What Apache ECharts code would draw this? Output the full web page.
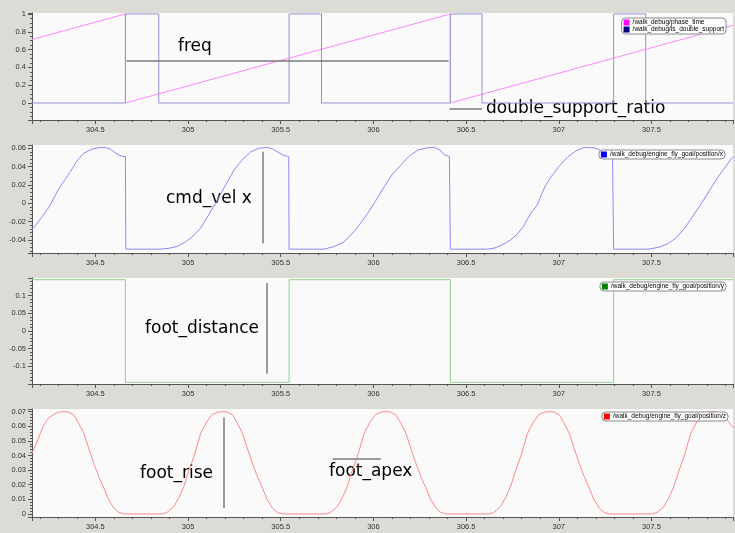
<!DOCTYPE html>
<html><head><meta charset="utf-8">
<script src="https://cdn.jsdelivr.net/npm/echarts@6/dist/echarts.min.js"></script>
<style>html,body{margin:0;padding:0;background:#dcdbd6}#c{width:735px;height:533px}</style>
</head><body><div id="c"></div>
<script>
// ---- data ----
const seriesNames = ['/walk_debug/phase_time','/walk_debug/is_double_support','/walk_debug/engine_fly_goal/position/x','/walk_debug/engine_fly_goal/position/y','/walk_debug/engine_fly_goal/position/z'];
const phaseTime = [[304.158,0.714],[304.662,1.0],[304.662,0],[306.415,1.0],[306.415,0],[307.94,0.872]];
const isDoubleSupport = [[304.158,0],[304.662,0],[304.662,1],[304.842,1],[304.842,0],[305.545,0],[305.545,1],[305.72,1],[305.72,0],[306.415,0],[306.415,1],[306.586,1],[306.586,0],[307.296,0],[307.296,1],[307.469,1],[307.469,0],[307.94,0]];
const posX = [
[304.158,-0.029],[304.2,-0.018],[304.25,-0.004],[304.285,0.009],[304.293,0.0127],[304.33,0.024],[304.365,0.0345],[304.4,0.046],[304.437,0.0545],[304.48,0.059],[304.527,0.061],[304.56,0.0605],[304.581,0.059],[304.6,0.056],[304.626,0.0527],[304.645,0.0512],[304.662,0.051],[304.664,-0.05],
[304.85,-0.05],[304.9,-0.049],[304.94,-0.047],[304.98,-0.043],[305.02,-0.037],[305.068,-0.027],[305.11,-0.013],[305.158,0.0036],[305.2,0.019],[305.248,0.0363],[305.29,0.047],[305.338,0.056],[305.38,0.06],[305.428,0.061],[305.46,0.059],[305.482,0.056],[305.518,0.052],[305.543,0.051],[305.545,-0.05],
[305.734,-0.05],[305.79,-0.047],[305.842,-0.042],[305.9,-0.03],[305.969,-0.011],[306.01,0.002],[306.058,0.018],[306.1,0.031],[306.149,0.042],[306.19,0.051],[306.239,0.058],[306.29,0.0605],[306.329,0.061],[306.36,0.058],[306.383,0.053],[306.41,0.051],[306.415,-0.05],
[306.617,-0.05],[306.65,-0.049],[306.689,-0.046],[306.74,-0.04],[306.779,-0.033],[306.81,-0.025],[306.833,-0.0164],[306.855,-0.009],[306.872,-0.005],[306.888,0.0],[306.905,0.009],[306.93,0.02],[306.959,0.029],[307.0,0.04],[307.05,0.051],[307.1,0.058],[307.14,0.061],[307.19,0.0605],[307.212,0.059],[307.24,0.056],[307.266,0.053],[307.29,0.051],[307.296,-0.05],
[307.482,-0.05],[307.54,-0.048],[307.59,-0.044],[307.63,-0.038],[307.68,-0.027],[307.72,-0.015],[307.77,0.0],[307.82,0.016],[307.86,0.029],[307.9,0.04],[307.932,0.049],[307.94,0.051]
];
const posY = [[304.158,0.145],[304.662,0.145],[304.662,-0.145],[305.545,-0.145],[305.545,0.145],[306.415,0.145],[306.415,-0.145],[307.296,-0.145],[307.296,0.145],[307.94,0.145]];
const posZ = [
[304.158,0.0415],[304.19,0.051],[304.22,0.0605],[304.25,0.066],[304.28,0.0685],[304.305,0.0697],[304.33,0.07],[304.356,0.0697],[304.384,0.0677],[304.41,0.062],[304.438,0.055],[304.461,0.046],[304.491,0.0347],[304.52,0.025],[304.546,0.0176],[304.57,0.01],[304.6,0.0039],[304.626,0.001],[304.654,0],
[304.862,0],[304.886,0.001],[304.923,0.005],[304.95,0.011],[304.977,0.0187],[305.0,0.028],[305.031,0.039],[305.068,0.055],[305.1,0.063],[305.13,0.068],[305.16,0.0697],[305.186,0.07],[305.212,0.0697],[305.24,0.0677],[305.266,0.062],[305.294,0.055],[305.317,0.046],[305.347,0.0347],[305.376,0.025],[305.402,0.0176],[305.426,0.01],[305.456,0.0039],[305.482,0.001],[305.51,0],
[305.744,0],[305.768,0.001],[305.805,0.005],[305.832,0.011],[305.859,0.0187],[305.882,0.028],[305.913,0.039],[305.95,0.055],[305.982,0.063],[306.012,0.068],[306.042,0.0697],[306.068,0.07],[306.094,0.0697],[306.122,0.0677],[306.148,0.062],[306.176,0.055],[306.199,0.046],[306.229,0.0347],[306.258,0.025],[306.284,0.0176],[306.308,0.01],[306.338,0.0039],[306.364,0.001],[306.392,0],
[306.625,0],[306.649,0.001],[306.686,0.005],[306.713,0.011],[306.74,0.0187],[306.763,0.028],[306.794,0.039],[306.831,0.055],[306.863,0.063],[306.893,0.068],[306.923,0.0697],[306.949,0.07],[306.975,0.0697],[307.003,0.0677],[307.029,0.062],[307.057,0.055],[307.08,0.046],[307.11,0.0347],[307.139,0.025],[307.165,0.0176],[307.189,0.01],[307.219,0.0039],[307.245,0.001],[307.273,0],
[307.5,0],[307.53,0.001],[307.567,0.005],[307.594,0.011],[307.621,0.0187],[307.644,0.028],[307.675,0.039],[307.712,0.055],[307.744,0.063],[307.774,0.068],[307.804,0.0697],[307.83,0.07],[307.856,0.0697],[307.884,0.0677],[307.91,0.064],[307.94,0.059]
];
// annotation segments in data coordinates [[t1,v1],[t2,v2]]
const annFreq = [[304.668,0.475],[306.406,0.475]];
const annDsr = [[306.41,-0.064],[306.586,-0.064]];
const annCmdVel = [[305.401,0.0563],[305.401,-0.0436]];
const annFootDist = [[305.424,0.136],[305.424,-0.121]];
const annFootRise = [[305.19,0.066],[305.19,0.004]];
const annFootApex = [[305.78,0.038],[306.04,0.038]];
const annTexts = ['freq','double_support_ratio','cmd_vel x','foot_distance','foot_rise','foot_apex'];
const xRange = [304.158, 307.94];
const yRanges = [[-0.191,1.011],[-0.0542,0.0636],[-0.1499,0.1499],[-0.0021,0.0718]];

// ---- layout / style ----
const gridBoxes = [{top:13,height:107},{top:145,height:108},{top:278,height:106},{top:409,height:108}];
const ySplit = [6,6,6,7];
const yMinor = [4,5,5,5];
const lineColors = ['#ff84ff','#9292d2','#8a8aff','#8fcf8f','#ff8a8a'];
const iconColors = ['#ff00ff','#000080','#0000ff','#008000','#ff0000'];
const tickFont = {fontFamily:'Liberation Sans', fontSize:7.5, color:'#333'};

const grid = gridBoxes.map(g => ({left:32, right:2, top:g.top, height:g.height, show:true, backgroundColor:'#fafafa', borderWidth:0}));
const xAxis = gridBoxes.map((g,i) => ({
  type:'value', gridIndex:i, min:xRange[0], max:xRange[1], splitNumber:7,
  axisLine:{show:true, onZero:false, lineStyle:{color:'#555', width:1}},
  axisTick:{show:true, length:4, lineStyle:{color:'#555'}},
  minorTick:{show:true, splitNumber:5, length:2, lineStyle:{color:'#555'}},
  splitLine:{show:false},
  axisLabel:Object.assign({showMinLabel:false, showMaxLabel:false, margin:6}, tickFont)
}));
const yAxis = gridBoxes.map((g,i) => ({
  type:'value', gridIndex:i, min:yRanges[i][0], max:yRanges[i][1], splitNumber:ySplit[i],
  axisLine:{show:true, onZero:false, lineStyle:{color:'#555', width:1}},
  axisTick:{show:true, length:4, lineStyle:{color:'#555'}},
  minorTick:{show:true, splitNumber:yMinor[i], length:2, lineStyle:{color:'#555'}},
  splitLine:{show:false},
  axisLabel:Object.assign({showMinLabel:false, showMaxLabel:false, margin:6}, tickFont)
}));

function mlMulti(segs){
  return {silent:true, symbol:['none','none'], animation:false,
    lineStyle:{color:'#7a7a7a', width:1.5, type:'solid'}, label:{show:false},
    data: segs.map(s => [{coord:s[0]},{coord:s[1]}])};
}
const datasets = [phaseTime, isDoubleSupport, posX, posY, posZ];
const gridOf = [0,0,1,2,3];
const marks = [mlMulti([annFreq, annDsr]), null, mlMulti([annCmdVel]), mlMulti([annFootDist]), mlMulti([annFootRise, annFootApex])];
const series = datasets.map((d,i) => {
  const s = {type:'line', name:seriesNames[i], xAxisIndex:gridOf[i], yAxisIndex:gridOf[i], data:d,
    showSymbol:false, symbol:'none', animation:false,
    lineStyle:{color:lineColors[i], width:1}, itemStyle:{color:iconColors[i]}};
  if (marks[i]) s.markLine = marks[i];
  return s;
});
const legendTops = [18, 150, 282, 412];
const legendRights = [9, 10, 9, 7];
const legendItems = [[0,1],[2],[3],[4]];
const legend = legendItems.map((idx,k) => ({
  orient:'vertical', right:legendRights[k], top:legendTops[k], selectedMode:false,
  itemWidth:6, itemHeight:6, itemGap:0, padding:[1,2,1,2],
  backgroundColor:'#fff', borderColor:'#8a8a8a', borderWidth:1, borderRadius:4,
  textStyle:{fontFamily:'Liberation Sans', fontSize:6.5, color:'#000', padding:[0,0,0,-2]},
  icon:'rect',
  data: idx.map(j => ({name:seriesNames[j], icon:'rect', itemStyle:{color:iconColors[j], borderWidth:0}}))
}));
const textPos = [[178,47],[486,108.5],[166,199],[145,329],[140,474],[329,472]];
const graphic = annTexts.map((t,i) => ({type:'text', x:textPos[i][0], y:textPos[i][1], silent:true,
  style:{text:t, fontFamily:'DejaVu Sans', fontSize:17, fill:'#000', verticalAlign:'middle'}}));

const chart = echarts.init(document.getElementById('c'), null, {renderer:'canvas'});
chart.setOption({backgroundColor:'#dcdbd6', animation:false, grid, xAxis, yAxis, series, legend, graphic});
</script></body></html>
